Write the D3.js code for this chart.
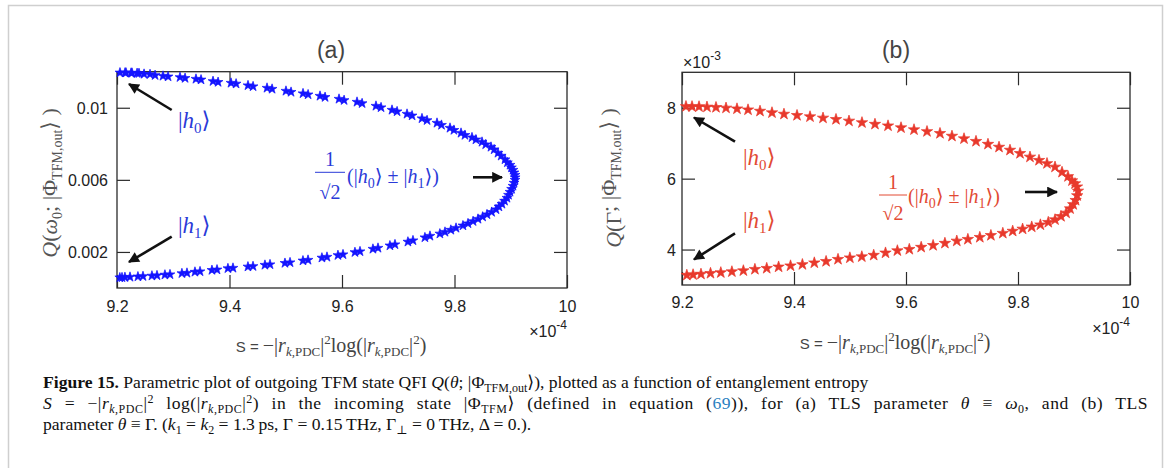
<!DOCTYPE html>
<html>
<head>
<meta charset="utf-8">
<script src="https://cdn.jsdelivr.net/npm/d3@7"></script>
<style>
  body { margin: 0; background: #fff; }
</style>
</head>
<body>
<svg id="fig" width="1171" height="468" font-family='"Liberation Sans", Arial, sans-serif'></svg>
<script>
// ---------- data ----------
const sTicks = [9.2, 9.4, 9.6, 9.8, 10];
const qTicksA = [0.002, 0.006, 0.01];
const qTicksB = [4, 6, 8];

// panel (a): two overlapping passes of the sweep, S in units of 1e-4
const sA1 = [9.2053,9.2160,9.2267,9.2391,9.2587,9.2818,9.3120,9.3404,9.3707,9.4027,9.4329,9.4667,9.5004,9.5307,9.5609,9.5947,9.6267,9.6604,9.6889,9.7156,9.7422,9.7689,9.7920,9.8116,9.8311,9.8489,9.8649,9.8773,9.8898,9.8987,9.9040,9.9076,
  9.9076,9.9040,9.8987,9.8933,9.8844,9.8738,9.8578,9.8418,9.8240,9.8027,9.7831,9.7564,9.7262,9.6942,9.6640,9.6320,9.6018,9.5733,9.5396,9.5076,9.4720,9.4418,9.4062,9.3778,9.3476,9.3244,9.2942,9.2711,9.2462,9.2231,9.2089];
const qA1 = [0.011945,0.011939,0.011928,0.011912,0.011856,0.011762,0.011690,0.011595,0.011468,0.011373,0.011235,0.011096,0.010930,0.010791,0.010652,0.010486,0.010319,0.010097,0.009875,0.009654,0.009404,0.009154,0.008877,0.008599,0.008350,0.008100,0.007823,0.007490,0.007129,0.006824,0.006547,0.006269,
  0.005992,0.005659,0.005326,0.004993,0.004660,0.004355,0.004078,0.003828,0.003578,0.003329,0.003107,0.002885,0.002635,0.002413,0.002219,0.002025,0.001859,0.001720,0.001553,0.001415,0.001304,0.001204,0.001110,0.001015,0.000915,0.000832,0.000749,0.000693,0.000649,0.000610,0.000583];
const sA2 = [9.2143,9.2250,9.2357,9.2481,9.2677,9.2908,9.3210,9.3494,9.3797,9.4117,9.4419,9.4757,9.5094,9.5397,9.5699,9.6037,9.6357,9.6694,9.6979,9.7246,9.7512,9.7769,9.7990,9.8186,9.8381,9.8555,9.8705,9.8830,9.8940,9.9012,9.9058,9.9078,
  9.9058,9.9015,9.8960,9.8890,9.8790,9.8660,9.8500,9.8330,9.8150,9.7935,9.7740,9.7474,9.7172,9.6852,9.6550,9.6230,9.5928,9.5643,9.5306,9.4986,9.4630,9.4328,9.3972,9.3688,9.3386,9.3154,9.2852,9.2621,9.2372,9.2141,9.2050];
const qA2 = [0.011940,0.011930,0.011915,0.011870,0.011800,0.011725,0.011640,0.011555,0.011420,0.011330,0.011180,0.011040,0.010870,0.010730,0.010585,0.010415,0.010240,0.010015,0.009790,0.009560,0.009300,0.009040,0.008760,0.008480,0.008230,0.007960,0.007680,0.007330,0.006960,0.006680,0.006400,0.006130,
  0.005830,0.005490,0.005160,0.004830,0.004510,0.004210,0.003950,0.003700,0.003460,0.003220,0.003010,0.002800,0.002560,0.002350,0.002165,0.001980,0.001815,0.001675,0.001515,0.001380,0.001275,0.001180,0.001085,0.000990,0.000890,0.000810,0.000730,0.000675,0.000630,0.000595,0.000578];

// panel (b): Q in units of 1e-3
const sB = [9.2071,9.2179,9.2304,9.2446,9.2607,9.2786,9.2982,9.3179,9.3393,9.3607,9.3821,9.4054,9.4286,9.4518,9.4750,9.4982,9.5214,9.5446,9.5679,9.5911,9.6143,9.6375,9.6607,9.6821,9.7036,9.7250,9.7464,9.7661,9.7857,9.8036,9.8214,9.8375,9.8518,9.8661,9.8786,9.8893,9.8964,9.9018,9.9054,9.9071,
  9.9057,9.9029,9.8986,9.8930,9.8859,9.8768,9.8661,9.8541,9.8400,9.8245,9.8082,9.7905,9.7729,9.7516,9.7318,9.7105,9.6907,9.6695,9.6484,9.6271,9.6059,9.5846,9.5634,9.5423,9.5211,9.4998,9.4786,9.4573,9.4363,9.4150,9.3938,9.3725,9.3513,9.3302,9.3096,9.2891,9.2693,9.2509,9.2339,9.2198,9.2086];
const qB = [8.0353,8.0324,8.0296,8.0212,8.0099,7.9930,7.9704,7.9422,7.9055,7.8604,7.8209,7.7842,7.7475,7.7109,7.6714,7.6262,7.5811,7.5360,7.4908,7.4372,7.3808,7.3300,7.2764,7.2003,7.1269,7.0536,6.9718,6.8900,6.8054,6.7123,6.6107,6.5176,6.4274,6.3286,6.1820,6.0606,5.9422,5.8604,5.7701,5.6516,
  5.5219,5.3893,5.2708,5.1523,5.0310,4.9351,4.8420,4.7687,4.6982,4.6389,4.5797,4.5205,4.4598,4.3992,4.3456,4.2891,4.2412,4.1791,4.1171,4.0663,4.0071,3.9676,3.9055,3.8406,3.7983,3.7673,3.7250,3.6657,3.6262,3.5783,3.5416,3.5106,3.4711,3.4429,3.4034,3.3752,3.3498,3.3300,3.3075,3.2906,3.2764];

const svg = d3.select("#fig");
const SANS = '"Liberation Sans",Arial,sans-serif';
const SERIF = '"Liberation Serif","DejaVu Serif",serif';

// frame around figure + caption
svg.append("rect").attr("x", 8.5).attr("y", 5.5).attr("width", 1154).attr("height", 480)
  .attr("fill", "none").attr("stroke", "#cfcfcf").attr("stroke-width", 1.5);

// arrowhead
svg.append("defs").append("marker").attr("id", "ah")
  .attr("viewBox", "0 0 10 10").attr("refX", 9).attr("refY", 5)
  .attr("markerWidth", 5).attr("markerHeight", 4.2).attr("orient", "auto")
  .attr("markerUnits", "strokeWidth")
  .append("path").attr("d", "M0,0 L10,5 L0,10 Z").attr("fill", "#111");

// text with sub/superscripts: parts = [str, {i, dy, fs, ff, fw, fill}]
function rich(parent, x, y, parts, attrs) {
  const t = parent.append("text").attr("x", x).attr("y", y);
  Object.entries(attrs || {}).forEach(([k, v]) => t.attr(k, v));
  let shift = 0;
  parts.forEach(([str, o = {}]) => {
    const target = o.dy || 0;
    const ts = t.append("tspan").text(str).attr("dy", target - shift);
    shift = target;
    if (o.i) ts.attr("font-style", "italic");
    if (o.fs) ts.attr("font-size", o.fs);
    if (o.ff) ts.attr("font-family", o.ff);
    if (o.fw) ts.attr("font-weight", o.fw);
    if (o.fill) ts.attr("fill", o.fill);
  });
  return t;
}

function arrow(g, x1, y1, x2, y2) {
  g.append("line").attr("x1", x1).attr("y1", y1).attr("x2", x2).attr("y2", y2)
    .attr("stroke", "#111").attr("stroke-width", 2.6).attr("marker-end", "url(#ah)");
}

function ket(g, x, y, sub, color) {
  rich(g, x, y, [["|"], ["h", { i: 1 }], [sub, { dy: 5, fs: 15 }], ["\u27E9"]],
    { "font-family": SERIF, "font-size": 23, fill: color });
}

function drawPanel(p) {
  const g = svg.append("g");
  const x = d3.scaleLinear().domain([9.2, 10]).range([p.left, p.right]);
  const y = d3.scaleLinear().domain(p.yDomain).range([p.bottom, p.top]);
  const axisColor = "#2b2b2b";

  // bottom axis (ticks inward)
  const gx = g.append("g").attr("transform", `translate(0,${p.bottom})`)
    .call(d3.axisBottom(x).tickValues(sTicks).tickSizeInner(-13).tickSizeOuter(0).tickFormat(d => String(d)));
  gx.selectAll("text").attr("y", 0).attr("dy", 0).attr("transform", `translate(0,${p.xLabY})`)
    .attr("font-size", 16).attr("fill", "#222").attr("font-family", SANS);
  // top mirror ticks
  g.append("g").attr("transform", `translate(0,${p.top})`)
    .call(d3.axisTop(x).tickValues(sTicks).tickSizeInner(-13).tickSizeOuter(0).tickFormat(""));
  // left axis
  const gy = g.append("g").attr("transform", `translate(${p.left},0)`)
    .call(d3.axisLeft(y).tickValues(p.yTicks).tickSizeInner(-13).tickSizeOuter(0).tickFormat(p.yFmt));
  gy.selectAll("text").attr("x", -p.yLabGap).attr("dy", "0.35em")
    .attr("font-size", 16).attr("fill", "#222").attr("font-family", SANS);
  // right mirror ticks
  g.append("g").attr("transform", `translate(${p.right},0)`)
    .call(d3.axisRight(y).tickValues(p.yTicks).tickSizeInner(-13).tickSizeOuter(0).tickFormat(""));
  g.selectAll(".domain").remove();
  g.selectAll(".tick line").attr("stroke", axisColor).attr("stroke-width", 1.2);

  g.append("rect").attr("x", p.left).attr("y", p.top)
    .attr("width", p.right - p.left).attr("height", p.bottom - p.top)
    .attr("fill", "none").attr("stroke", axisColor).attr("stroke-width", 1.3);

  // star markers, one path per point
  const star = d3.symbol().type(d3.symbolStar).size(p.starSize);
  p.series.forEach(([s, q]) => {
    g.append("g").selectAll("path").data(d3.zip(s, q)).join("path")
      .attr("d", star)
      .attr("transform", d => `translate(${x(d[0])},${y(d[1])})`)
      .attr("fill", p.color).attr("stroke", p.color).attr("stroke-width", 0.7);
  });

  // title
  g.append("text").attr("x", p.titleX).attr("y", 58).attr("text-anchor", "middle")
    .attr("font-size", 23).attr("fill", "#444").text(p.title);

  // x exponent
  rich(g, p.right, p.bottom + 49, [["\u00D710"], ["-4", { dy: -8, fs: 12 }]],
    { "text-anchor": "end", "font-size": 16, fill: "#222" });

  // x label
  const sub = { dy: 4, fs: 13 };
  rich(g, p.xTitleX, p.bottom + 64, [
    ["S = ", { ff: SANS, fs: 15 }], ["\u2212|"], ["r", { i: 1 }],
    ["k", { i: 1, dy: 4, fs: 13 }], [",PDC", sub], ["|"], ["2", { dy: -8, fs: 13 }],
    ["log(|"], ["r", { i: 1 }], ["k", { i: 1, dy: 4, fs: 13 }], [",PDC", sub], ["|"],
    ["2", { dy: -8, fs: 13 }], [")"]
  ], { "text-anchor": "middle", "font-family": SERIF, "font-size": 20, fill: "#444" });

  // y label
  rich(g, 0, 0, [
    ["Q", { i: 1 }], ["("], p.yParam, [p.yParamSub || "", { dy: 5, fs: 14 }], ["; |\u03A6"],
    ["TFM,out", { dy: 5, fs: 14 }], ["\u27E9 )"]
  ], { "text-anchor": "middle", "font-family": SERIF, "font-size": 22, fill: "#555",
       transform: `translate(${p.yTitleX},${p.yTitleY}) rotate(-90)` });

  return { g, x, y };
}

// ---------- panel (a) ----------
const A = drawPanel({
  left: 117, right: 567, top: 71.7, bottom: 288,
  yDomain: [0, 0.012], yTicks: qTicksA, yFmt: d => String(d), yLabGap: 9, xLabY: 24,
  series: [[sA1, qA1], [sA2, qA2]], color: "#1414ff", starSize: 30,
  title: "(a)", titleX: 331, xTitleX: 331, yTitleX: 57, yTitleY: 183,
  yParam: ["\u03C9", { i: 1 }], yParamSub: "0"
});
const blueTxt = "#2a3ad8";
arrow(A.g, 171.7, 110, 129, 84);
arrow(A.g, 171.7, 236.7, 129, 262);
ket(A.g, 178, 128, "0", blueTxt);
ket(A.g, 178, 233, "1", blueTxt);
A.g.append("text").attr("x", 330).attr("y", 166).attr("text-anchor", "middle")
  .attr("font-family", SERIF).attr("font-size", 20).attr("fill", blueTxt).text("1");
A.g.append("line").attr("x1", 315).attr("x2", 345).attr("y1", 172.3).attr("y2", 172.3)
  .attr("stroke", blueTxt).attr("stroke-width", 1);
A.g.append("text").attr("x", 330).attr("y", 199).attr("text-anchor", "middle")
  .attr("font-family", SERIF).attr("font-size", 20).attr("fill", blueTxt).text("\u221A2");
rich(A.g, 347, 183, [["(|"], ["h", { i: 1 }], ["0", { dy: 5, fs: 14 }], ["\u27E9 \u00B1 |"], ["h", { i: 1 }],
  ["1", { dy: 5, fs: 14 }], ["\u27E9)"]], { "font-family": SERIF, "font-size": 20, fill: blueTxt });
arrow(A.g, 473, 177.3, 502, 177.3);

// ---------- panel (b) ----------
const B = drawPanel({
  left: 682, right: 1130, top: 72.3, bottom: 285,
  yDomain: [3, 9], yTicks: qTicksB, yFmt: d => String(d), yLabGap: 6, xLabY: 23,
  series: [[sB, qB]], color: "#e8392c", starSize: 40,
  title: "(b)", titleX: 896, xTitleX: 895, yTitleX: 621, yTitleY: 178,
  yParam: ["\u0393"], yParamSub: ""
});
rich(B.g, 683, 68, [["\u00D710"], ["-3", { dy: -8, fs: 12 }]], { "font-size": 16, fill: "#222" });
const redTxt = "#e24a33";
arrow(B.g, 735, 141.7, 694, 117.5);
arrow(B.g, 735, 233.3, 694, 259.5);
ket(B.g, 743, 165, "0", redTxt);
ket(B.g, 743, 228, "1", redTxt);
B.g.append("text").attr("x", 893).attr("y", 189).attr("text-anchor", "middle")
  .attr("font-family", SERIF).attr("font-size", 20).attr("fill", redTxt).text("1");
B.g.append("line").attr("x1", 879).attr("x2", 907).attr("y1", 195).attr("y2", 195)
  .attr("stroke", redTxt).attr("stroke-width", 1);
B.g.append("text").attr("x", 893).attr("y", 220).attr("text-anchor", "middle")
  .attr("font-family", SERIF).attr("font-size", 20).attr("fill", redTxt).text("\u221A2");
rich(B.g, 908, 203, [["(|"], ["h", { i: 1 }], ["0", { dy: 5, fs: 14 }], ["\u27E9 \u00B1 |"], ["h", { i: 1 }],
  ["1", { dy: 5, fs: 14 }], ["\u27E9)"]], { "font-family": SERIF, "font-size": 20, fill: redTxt });
arrow(B.g, 1025, 192, 1057, 192);

// ---------- caption ----------
const cap = svg.append("g").attr("font-family", SERIF).attr("font-size", 17.6).attr("fill", "#111");
const sb = o => Object.assign({ dy: 4, fs: 12 }, o || {});
const sp = { dy: -6, fs: 12 };
rich(cap, 43, 388, [
  ["Figure 15.", { fw: "bold" }], [" Parametric plot of outgoing TFM state QFI "], ["Q", { i: 1 }], ["("],
  ["\u03B8", { i: 1 }], ["; |\u03A6"], ["TFM,out", sb()], ["\u27E9), plotted as a function of entanglement entropy"]
]);
const line2 = rich(cap, 43, 409, [
  ["S", { i: 1 }], [" = \u2212|"], ["r", { i: 1 }], ["k", sb({ i: 1 })], [",PDC", sb()], ["|"], ["2", sp],
  [" log(|"], ["r", { i: 1 }], ["k", sb({ i: 1 })], [",PDC", sb()], ["|"], ["2", sp],
  [") in the incoming state |\u03A6"], ["TFM", sb()], ["\u27E9 (defined in equation ("],
  ["69", { fill: "#2a7fc1" }], [")), for (a) TLS parameter "], ["\u03B8", { i: 1 }], [" \u2261 "],
  ["\u03C9", { i: 1 }], ["0", sb()], [", and (b) TLS"]
]);
rich(cap, 43, 430, [
  ["parameter "], ["\u03B8", { i: 1 }], [" \u2261 \u0393. ("], ["k", { i: 1 }], ["1", sb()], [" = "],
  ["k", { i: 1 }], ["2", sb()], [" = 1.3\u2009ps, \u0393 = 0.15\u2009THz, \u0393"], ["\u22A5", sb()],
  [" = 0\u2009THz, \u0394 = 0.)."]
]);
// justify line 2 to the text block width: a little letter spacing, the rest between words
line2.attr("letter-spacing", 0.5);
const w2 = line2.node().getBBox().width;
const spaces = line2.text().split(" ").length - 1;
line2.attr("word-spacing", Math.max(0, (1148 - 43 - w2) / spaces));
</script>
</body>
</html>
